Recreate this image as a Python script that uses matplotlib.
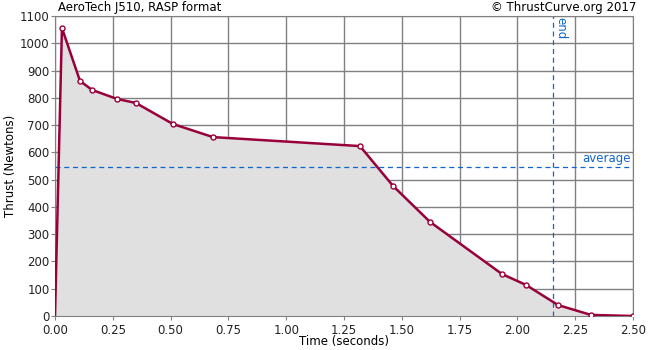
import matplotlib
matplotlib.use("Agg")
import matplotlib.pyplot as plt

time_s = [0.0, 0.030, 0.108, 0.160, 0.268, 0.350, 0.510, 0.683, 1.319, 1.462, 1.622, 1.933, 2.037, 2.176, 2.318, 2.500]
thrust_n = [0, 1056, 862, 829, 796, 781, 704, 656, 623, 477, 345, 154, 114, 40, 4, 0]
average_thrust = 546
burn_end = 2.154
x_ticks = [0.0, 0.25, 0.5, 0.75, 1.0, 1.25, 1.5, 1.75, 2.0, 2.25, 2.5]
y_ticks = list(range(0, 1101, 100))

fig = plt.figure(figsize=(6.5, 3.5), dpi=100)
ax = fig.add_axes([55/650, 34/350, 578/650, 300/350])
fs = 8.5
blue = "#1166cc"
red = "#99003a"

ax.fill_between(time_s, thrust_n, 0, color="#e0e0e0", zorder=1, linewidth=0)
ax.plot(time_s, thrust_n, color=red, linewidth=1.8, zorder=3)
ax.plot(time_s[1:], thrust_n[1:], linestyle="none", marker="o", markersize=3.6,
        markerfacecolor="white", markeredgecolor=red, markeredgewidth=1.0, zorder=4)

ax.axhline(average_thrust, color=blue, linestyle=(0, (4, 3)), linewidth=0.9, zorder=2)
ax.axvline(burn_end, color=blue, linestyle=(0, (4, 3)), linewidth=0.9, zorder=2)
ax.text(2.49, average_thrust + 8, "average", color=blue, fontsize=fs, ha="right", va="bottom")
ax.text(burn_end + 0.005, 1095, "end", color=blue, fontsize=fs, ha="left", va="top", rotation=-90)

ax.set_xlim(0, 2.5)
ax.set_ylim(0, 1100)
ax.set_xticks(x_ticks)
ax.set_xticklabels([f"{v:.2f}" for v in x_ticks])
ax.set_yticks(y_ticks)
ax.grid(True, color="#808080", linewidth=1.0, zorder=0)
ax.set_axisbelow(True)
for s in ax.spines.values():
    s.set_color("#808080")
ax.tick_params(axis="both", labelsize=fs, colors="#222222", length=3, width=0.8)
ax.tick_params(axis="y", pad=1)
ax.tick_params(axis="x", pad=2.5)
ax.tick_params(axis="both", color="#808080")
ax.set_xlabel("Time (seconds)", fontsize=fs, labelpad=-1)
ax.set_ylabel("Thrust (Newtons)", fontsize=fs, labelpad=2)

fig.text(58/650, 1 - 8/350, "AeroTech J510, RASP format", fontsize=fs, ha="left", va="center")
fig.text(636/650, 1 - 8/350, "© ThrustCurve.org 2017", fontsize=fs, ha="right", va="center")

fig.savefig("out.png", dpi=100)
